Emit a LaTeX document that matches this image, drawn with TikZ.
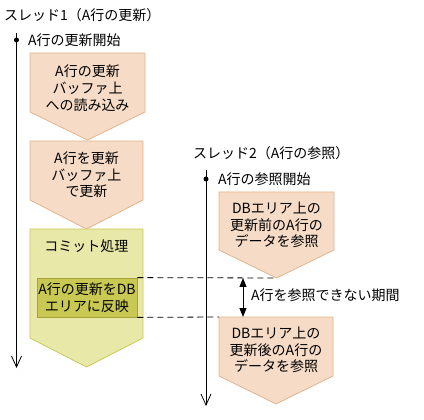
\documentclass[tikz,border=0pt]{standalone}
\usepackage{fontspec}
\setmainfont{Noto Sans CJK JP}
\usetikzlibrary{arrows.meta}
\definecolor{peachfill}{HTML}{F6DBC6}
\definecolor{peachline}{HTML}{E2B48C}
\definecolor{commitfill}{HTML}{E8E8A9}
\definecolor{commitline}{HTML}{C9C957}
\definecolor{innerfill}{HTML}{C8C852}
\definecolor{innerline}{HTML}{A3A33A}
\newcommand{\arrowbox}[7]{%
  \path[#7] (#2,#4) -- (#3,#4) -- (#3,#5) -- ({(#2+#3)/2},#6) -- (#2,#5) -- cycle;
  \coordinate (#1-tip) at ({(#2+#3)/2},#6);
  \coordinate (#1-nw) at (#2,#4);
}
\begin{document}
\begin{tikzpicture}[x=1pt,y=-1pt,
  every node/.style={font=\fontsize{14pt}{16.7pt}\selectfont,inner sep=0pt},
  lbl/.style={anchor=west},
  boxtext/.style={align=center},
  peach/.style={fill=peachfill,draw=peachline,line width=0.8pt},
  commit/.style={fill=commitfill,draw=commitline,line width=0.8pt},
  inner/.style={fill=innerfill,draw=innerline,line width=0.8pt,minimum width=100pt,minimum height=39pt,align=center},
  timeline/.style={line width=1pt,-{Straight Barb[length=11pt,width=10pt,line width=0.8pt]}},
  startdot/.style={circle,fill=black,minimum size=5pt,inner sep=0pt},
  gap/.style={dashed,dash pattern=on 6pt off 4pt,line width=0.8pt},
  span/.style={line width=1pt,{Triangle[length=9pt,width=7pt]}-{Triangle[length=9pt,width=7pt]}}
]
\useasboundingbox (0,0) rectangle (424,420);
% thread 1
\node[lbl] (t1) at (4,15) {スレッド1（A行の更新）};
\coordinate (l1top) at (16.5,33);
\coordinate (l1bot) at (16.5,368);
\draw[timeline] (l1top) -- (l1bot);
\node[startdot] (d1) at (16.5,40) {};
\node[lbl] (s1) at (28,40) {A行の更新開始};
\arrowbox{b1}{30}{145}{53}{112}{140}{peach}
\node[boxtext] (b1t) at (87.5,88) {A行の更新\\バッファ上\\への読み込み};
\arrowbox{b2}{30}{143}{141}{200}{229}{peach}
\node[boxtext] (b2t) at (86.5,175) {A行を更新\\バッファ上\\で更新};
\arrowbox{b3}{30}{143}{229}{338}{367}{commit}
\node (b3t) at (86.5,246) {コミット処理};
\node[inner] (in) at (87,297.5) {A行の更新をDB\\エリアに反映};
% thread 2
\node[lbl] (t2) at (193,153) {スレッド2（A行の参照）};
\coordinate (l2top) at (206,170);
\coordinate (l2bot) at (206,406);
\draw[timeline] (l2top) -- (l2bot);
\node[startdot] (d2) at (206,179) {};
\node[lbl] (s2) at (218,179) {A行の参照開始};
\arrowbox{b4}{219}{334}{192}{250}{278}{peach}
\node[boxtext] (b4t) at (276.5,225) {DBエリア上の\\更新前のA行の\\データを参照};
\arrowbox{b5}{219}{333}{317}{376}{404}{peach}
\node[boxtext] (b5t) at (276,350) {DBエリア上の\\更新後のA行の\\データを参照};
% gap
\draw[gap] (in.north east) -- (b4-tip);
\draw[gap] (in.south east) -- (b5-nw);
\coordinate (g1) at (243,278);
\coordinate (g2) at (243,317);
\draw[span] (g1) -- (g2);
\node[lbl] (gl) at (251,295) {A行を参照できない期間};
\end{tikzpicture}
\end{document}
